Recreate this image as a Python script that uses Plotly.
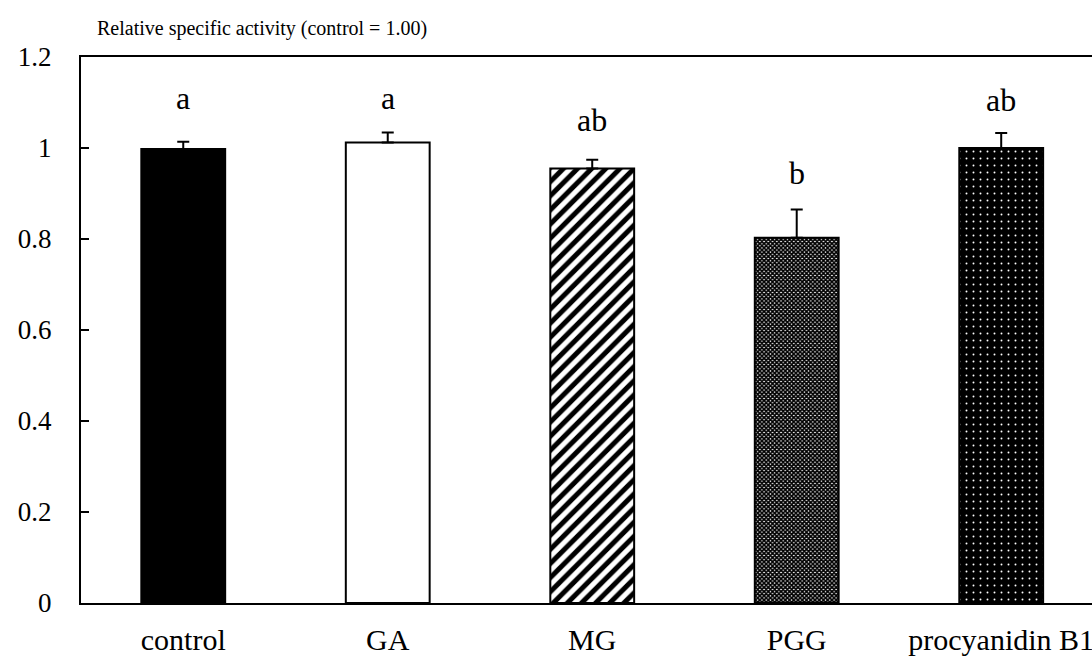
import plotly.graph_objects as go

# Treatments and measured relative specific activity
categories = ["control", "GA", "MG", "PGG", "procyanidin B1"]
means = [0.998, 1.012, 0.955, 0.803, 1.000]
errors = [0.016, 0.022, 0.019, 0.062, 0.033]
letters = ["a", "a", "ab", "b", "ab"]
letter_y = [1.0835, 1.0835, 1.035, 0.919, 1.079]

FONT = "Liberation Serif"

# Fill style for each bar: solid black, white, diagonal stripes, fine check, dots
fills = [
    dict(color="black", pattern=dict(shape="")),
    dict(color="white", pattern=dict(shape="")),
    dict(color="white", pattern=dict(shape="/", fgcolor="black", bgcolor="white",
                                     size=10, solidity=0.5, fillmode="replace")),
    dict(color="white", pattern=dict(shape="x", fgcolor="black", bgcolor="white",
                                     size=3, solidity=0.8, fillmode="replace")),
    dict(color="black", pattern=dict(shape=".", fgcolor="white", bgcolor="black",
                                     size=7, solidity=0.06, fillmode="replace")),
]

fig = go.Figure()
for i, cat in enumerate(categories):
    fig.add_trace(go.Bar(
        x=[cat], y=[means[i]], width=0.41,
        marker=dict(color=fills[i]["color"], pattern=fills[i]["pattern"],
                    line=dict(color="black", width=2)),
        error_y=dict(type="data", symmetric=False, array=[errors[i]], arrayminus=[0],
                     color="black", thickness=2, width=6),
        showlegend=False,
    ))

for cat, lab, ly in zip(categories, letters, letter_y):
    fig.add_annotation(x=cat, y=ly, text=lab, showarrow=False, xanchor="center",
                       yanchor="bottom", yshift=-8,
                       font=dict(family=FONT, size=32, color="black"))

fig.update_layout(
    width=1092, height=657,
    margin=dict(l=81, r=0, t=57, b=54, autoexpand=False),
    paper_bgcolor="white", plot_bgcolor="white",
    font=dict(family=FONT, color="black"),
    title=dict(text="Relative specific activity (control = 1.00)",
               x=97 / 1092, xanchor="left", xref="container",
               y=1 - 28 / 657, yanchor="middle", yref="container",
               font=dict(family=FONT, size=20, color="black")),
    bargap=0.59,
)
fig.update_xaxes(
    range=[-0.5, 4.444], automargin=False, showline=True, linecolor="black",
    linewidth=2, mirror=True, showgrid=False, ticks="",
    tickfont=dict(family=FONT, size=30, color="black"), ticklabelstandoff=9,
)
fig.update_yaxes(
    range=[0, 1.2], dtick=0.2, automargin=False, showline=True, linecolor="black",
    linewidth=2, mirror=False, showgrid=False, zeroline=False, ticks="inside",
    ticklen=8, tickwidth=2, tickcolor="black",
    tickfont=dict(family=FONT, size=27, color="black"), ticklabelstandoff=22,
)

fig.write_html("out.html")
